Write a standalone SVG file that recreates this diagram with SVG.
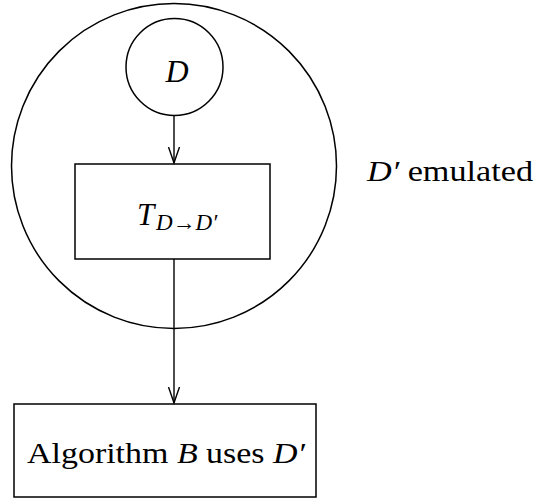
<svg xmlns="http://www.w3.org/2000/svg" width="537" height="501" viewBox="0 0 537 501">
  <style>
    .shape { fill: none; stroke: #000; stroke-width: 1.5; }
    .edge { fill: none; stroke: #000; stroke-width: 1.4; }
    .txt { font-family: "Liberation Serif", "DejaVu Serif", serif; fill: #000; }
    .it { font-style: italic; }
  </style>
  <defs>
    <marker id="arrow" markerUnits="userSpaceOnUse" viewBox="-16 -8 18 16" refX="0" refY="0" markerWidth="18" markerHeight="16" orient="auto">
      <path d="M -16 -5.5 Q -6 -2 0 0 Q -6 2 -16 5.5" fill="none" stroke="#000" stroke-width="1.4"/>
    </marker>
  </defs>
  <rect width="537" height="501" fill="#fff"/>

  <g id="emulation-region">
    <circle class="shape" cx="174" cy="166" r="162.5"/>
    <text class="txt" x="367" y="181" font-size="30" textLength="166" lengthAdjust="spacingAndGlyphs"><tspan class="it">D′</tspan> emulated</text>
  </g>

  <g id="node-D">
    <circle class="shape" cx="174.5" cy="67" r="48.5"/>
    <text class="txt it" x="177" y="82" font-size="32" text-anchor="middle">D</text>
  </g>

  <g id="node-T">
    <rect class="shape" x="75" y="164" width="195" height="95"/>
    <text class="txt it" x="137" y="225" font-size="31">T</text>
    <text class="txt it" x="156" y="230" font-size="23">D→D′</text>
  </g>

  <g id="node-B">
    <rect class="shape" x="14" y="404" width="302" height="93"/>
    <text class="txt" x="27" y="463" font-size="30" textLength="278" lengthAdjust="spacingAndGlyphs">Algorithm <tspan class="it">B</tspan> uses <tspan class="it">D′</tspan></text>
  </g>

  <g id="connectors">
    <line class="edge" x1="174" y1="115.5" x2="174" y2="163" marker-end="url(#arrow)"/>
    <line class="edge" x1="174" y1="259" x2="174" y2="403" marker-end="url(#arrow)"/>
  </g>
</svg>
